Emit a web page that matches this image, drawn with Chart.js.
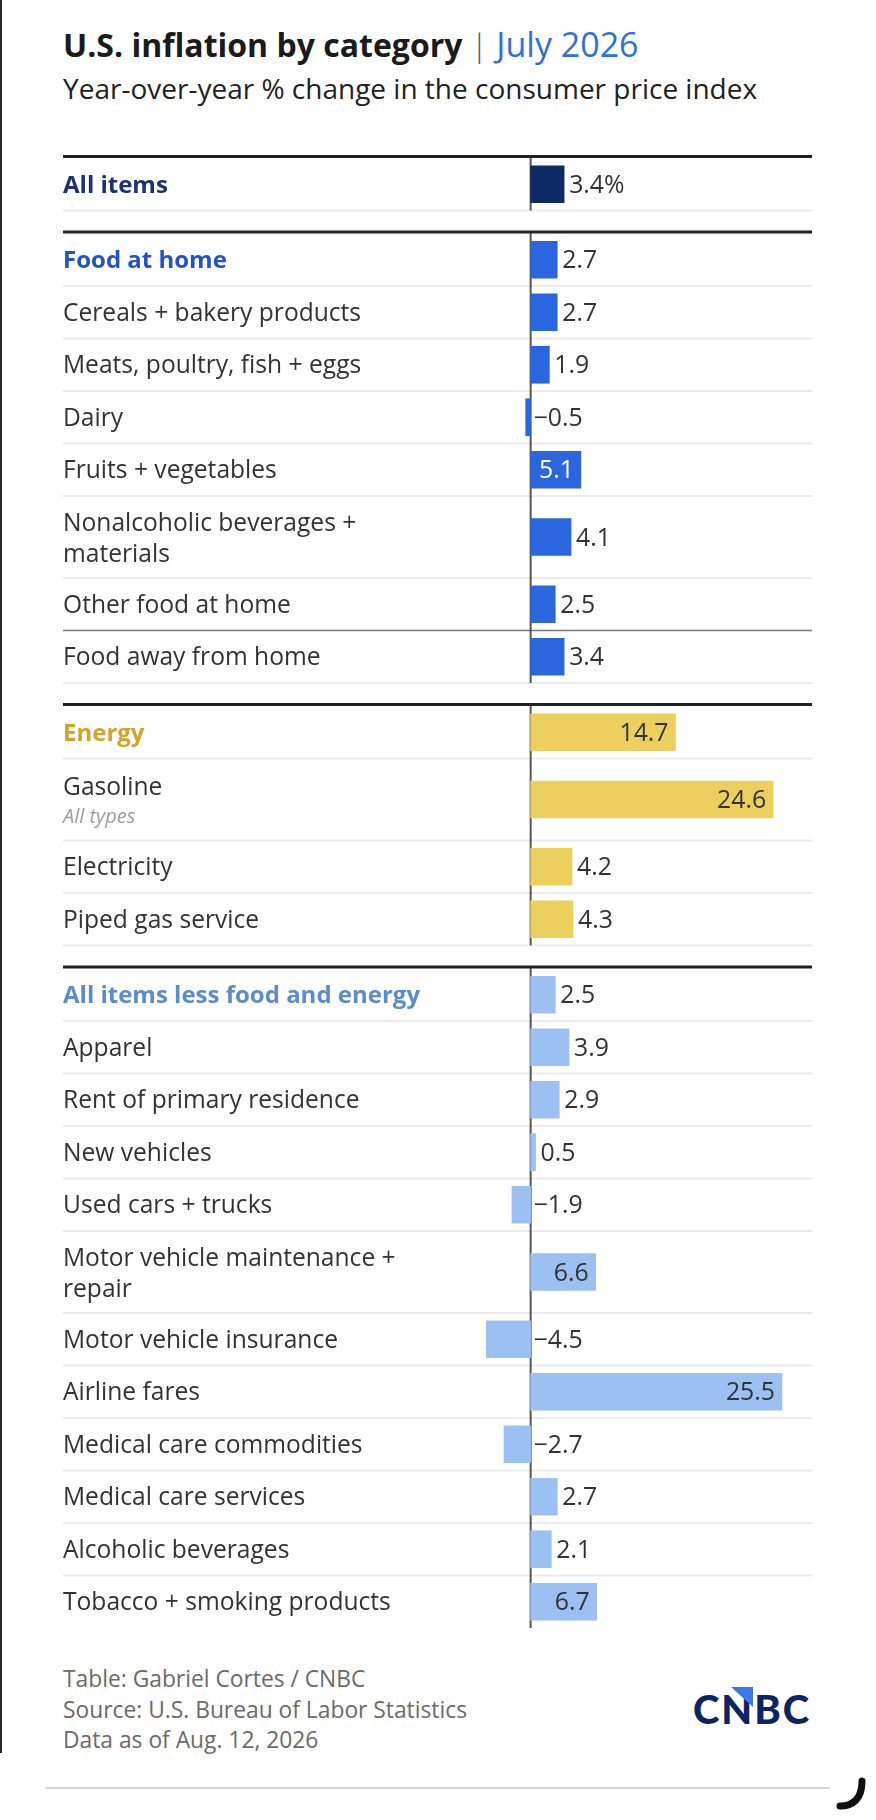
<!DOCTYPE html>
<html>
<head>
<meta charset="utf-8">
<script src="https://cdn.jsdelivr.net/npm/chart.js@4.4.1/dist/chart.umd.min.js"></script>
<style>
  html, body { margin: 0; padding: 0; background: #fff; }
  body { width: 876px; height: 1820px; position: relative; overflow: hidden; font-family: "Open Sans", "Noto Sans", sans-serif; }
  .edge { position: absolute; left: 0; top: 0; width: 2px; height: 1753px; background: #2a2a2a; }
  #title { position: absolute; left: 63px; top: 28px; font-size: 32px; line-height: 32px; font-weight: 700; color: #1b1b1b; white-space: nowrap; }
  #title .bar { font-weight: 300; color: #555; }
  #title .date { font-weight: 400; color: #2f6fe0; font-size: 34px; }
  #subtitle { position: absolute; left: 63px; top: 74px; font-size: 28px; line-height: 28px; color: #222; white-space: nowrap; }
  #wrap { position: absolute; left: 0; top: 150px; width: 876px; height: 1490px; }
  #notes { position: absolute; left: 63px; top: 1664px; font-size: 22.8px; line-height: 30.5px; color: #6b6b6b; }
  #logo { position: absolute; left: 693px; top: 1689px; font-family: Lato, sans-serif; font-size: 40px; line-height: 40px; font-weight: 900; color: #0c2461; letter-spacing: 2px; }
  #tri { position: absolute; left: 731px; top: 1687px; width: 22px; height: 20px; background: #3a78e6; clip-path: polygon(0 0, 100% 0, 100% 100%); }
  #rule { position: absolute; left: 45px; top: 1787px; width: 785px; height: 2px; background: #cfd6dc; }
  svg { position: absolute; left: 0; top: 0; }
</style>
</head>
<body>
<div class="edge"></div>
<div id="title">U.S. inflation by category <span class="bar">|</span> <span class="date">July 2026</span></div>
<div id="subtitle">Year-over-year % change in the consumer price index</div>
<div id="wrap"><canvas id="table" width="876" height="1490"></canvas></div>
<div id="notes">Table: Gabriel Cortes / CNBC<br>Source: U.S. Bureau of Labor Statistics<br>Data as of Aug. 12, 2026</div>
<div id="logo">CNBC</div>
<div id="tri"></div>
<div id="rule"></div>
<svg width="876" height="1820"><path d="M862 1781 C862 1799 853 1806 840 1806" stroke="#111" stroke-width="7" fill="none" stroke-linecap="round"/></svg>

<script>
// Categories, in table order
const labels = [
  'All items',
  'Food at home', 'Cereals + bakery products', 'Meats, poultry, fish + eggs', 'Dairy',
  'Fruits + vegetables', 'Nonalcoholic beverages +\nmaterials', 'Other food at home', 'Food away from home',
  'Energy', 'Gasoline', 'Electricity', 'Piped gas service',
  'All items less food and energy', 'Apparel', 'Rent of primary residence', 'New vehicles',
  'Used cars + trucks', 'Motor vehicle maintenance +\nrepair', 'Motor vehicle insurance', 'Airline fares',
  'Medical care commodities', 'Medical care services', 'Alcoholic beverages', 'Tobacco + smoking products'
];
const sublabels = ['', '', '', '', '', '', '', '', '', '', 'All types', '', '', '', '', '', '', '', '', '', '', '', '', '', ''];
// Year-over-year % change
const values = [3.4, 2.7, 2.7, 1.9, -0.5, 5.1, 4.1, 2.5, 3.4, 14.7, 24.6, 4.2, 4.3,
                2.5, 3.9, 2.9, 0.5, -1.9, 6.6, -4.5, 25.5, -2.7, 2.7, 2.1, 6.7];
const groups = ['all', 'food', 'food', 'food', 'food', 'food', 'food', 'food', 'food',
                'energy', 'energy', 'energy', 'energy',
                'core', 'core', 'core', 'core', 'core', 'core', 'core', 'core', 'core', 'core', 'core', 'core'];

const barColors = { all: '#0f2b66', food: '#2c66de', energy: '#edcf5e', core: '#9dc0f2' };
const headColors = { all: '#1b3370', food: '#2354c4', energy: '#d3a32a', core: '#5b8bd0' };
const insideInk = { all: '#fff', food: '#fff', energy: '#333', core: '#333' };

// row layout (px units on the y scale)
const ROW = 52.5, TALL = 82, GAP = 23, TOP = 8;
const rowTop = [], rowH = [], groupTop = {}, groupBottom = {};
let cursor = TOP;
labels.forEach((l, i) => {
  if (i > 0 && groups[i] !== groups[i - 1]) cursor += GAP;
  if (groupTop[groups[i]] === undefined) groupTop[groups[i]] = cursor;
  const h = (l.includes('\n') || sublabels[i]) ? TALL : ROW;
  rowTop.push(cursor); rowH.push(h);
  cursor += h;
  groupBottom[groups[i]] = cursor;
});
const rowCenter = rowTop.map((t, i) => t + rowH[i] / 2);

const FONT = '"Open Sans", "Noto Sans", sans-serif';

const tablePlugin = {
  id: 'tableRows',
  beforeDatasetsDraw(chart) {
    const { ctx, scales: { x, y } } = chart;
    const left = chart.chartArea.left, right = chart.chartArea.right;
    const zx = x.getPixelForValue(0);
    ctx.save();
    // row rules
    labels.forEach((l, i) => {
      if (i === labels.length - 1) return;
      const yy = y.getPixelForValue(rowTop[i] + rowH[i]);
      const dark = i === 7;
      ctx.strokeStyle = dark ? '#777' : '#ebebeb';
      ctx.lineWidth = dark ? 1.5 : 2;
      ctx.beginPath(); ctx.moveTo(left, yy); ctx.lineTo(right, yy); ctx.stroke();
    });
    // thick group rules + zero line
    Object.keys(groupTop).forEach(g => {
      const t = y.getPixelForValue(groupTop[g] - 1.5);
      const b = y.getPixelForValue(groupBottom[g]);
      ctx.strokeStyle = '#555'; ctx.lineWidth = 2;
      ctx.beginPath(); ctx.moveTo(zx, t); ctx.lineTo(zx, b); ctx.stroke();
      ctx.strokeStyle = '#222'; ctx.lineWidth = 3;
      ctx.beginPath(); ctx.moveTo(left, t); ctx.lineTo(right, t); ctx.stroke();
    });
    ctx.restore();
  },
  afterDatasetsDraw(chart) {
    const { ctx, scales: { y } } = chart;
    const left = chart.chartArea.left;
    const bars = chart.getDatasetMeta(0).data;
    ctx.save();
    labels.forEach((l, i) => {
      const g = groups[i];
      const head = i === 0 || groups[i] !== groups[i - 1];
      const cy = y.getPixelForValue(rowCenter[i]);
      ctx.textAlign = 'left';
      ctx.textBaseline = 'alphabetic';
      ctx.font = head ? '700 24px ' + FONT : '400 24.6px ' + FONT;
      ctx.fillStyle = head ? headColors[g] : '#333';
      const lines = l.split('\n');
      if (sublabels[i]) {
        ctx.fillText(lines[0], left, cy - 5);
        ctx.font = 'italic 400 20px ' + FONT;
        ctx.fillStyle = '#9d9d9d';
        ctx.fillText(sublabels[i], left, cy + 23);
      } else if (lines.length > 1) {
        ctx.fillText(lines[0], left, cy - 6);
        ctx.fillText(lines[1], left, cy + 25);
      } else {
        ctx.fillText(l, left, cy + 8.5);
      }

      // value label
      const v = values[i];
      const bar = bars[i];
      const txt = (v < 0 ? '\u2212' : '') + Math.abs(v).toFixed(1) + (i === 0 ? '%' : '');
      ctx.font = '400 24.8px ' + FONT;
      const w = ctx.measureText(txt).width;
      const bw = Math.abs(bar.x - bar.base);
      if (v > 0 && bw >= w + 14) {
        ctx.textAlign = 'right';
        ctx.fillStyle = insideInk[g];
        ctx.fillText(txt, bar.x - 7, cy + 8.5);
      } else {
        ctx.textAlign = 'left';
        ctx.fillStyle = '#333';
        ctx.fillText(txt, Math.max(bar.x, bar.base) + (v < 0 ? 3 : 5), cy + 8.5);
      }
    });
    ctx.restore();
  }
};

new Chart(document.getElementById('table'), {
  type: 'bar',
  data: {
    datasets: [{
      data: values.map((v, i) => ({ x: v, y: rowCenter[i] })),
      backgroundColor: groups.map(g => barColors[g]),
      borderWidth: 0,
      barThickness: 37
    }]
  },
  options: {
    indexAxis: 'y',
    responsive: false,
    animation: false,
    layout: { padding: { left: 63, right: 64, top: 0, bottom: 0 } },
    plugins: { legend: { display: false }, tooltip: { enabled: false } },
    scales: {
      x: { type: 'linear', min: -47.45, max: 28.55, offset: false, display: false },
      y: { type: 'linear', min: 0, max: 1490, reverse: true, offset: false, display: false }
    }
  },
  plugins: [tablePlugin]
});
</script>
</body>
</html>
